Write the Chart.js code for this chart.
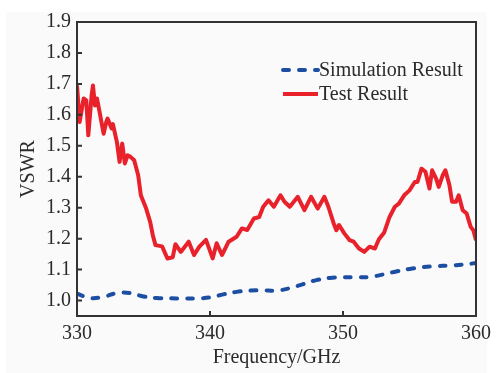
<!DOCTYPE html>
<html>
<head>
<meta charset="utf-8">
<script src="https://cdn.jsdelivr.net/npm/chart.js@4.4.0/dist/chart.umd.min.js"></script>
<style>
  html, body { margin: 0; padding: 0; background: #fff; }
  #wrap { width: 497px; height: 373px; }
</style>
</head>
<body>
<div id="wrap"><canvas id="myChart" width="497" height="373"></canvas></div>
<script>
// simulation (blue dashed)
const simFreq = [330,331,332,333,334,335,336,337,338,339,340,341,342,343,344,345,346,347,348,349,350,351,352,353,354,355,356,357,358,359,360];
const simVswr = [1.022,1.008,1.012,1.024,1.024,1.013,1.008,1.007,1.007,1.007,1.010,1.020,1.028,1.032,1.033,1.032,1.040,1.053,1.066,1.073,1.075,1.075,1.076,1.084,1.094,1.102,1.108,1.111,1.113,1.116,1.121];

// measured (red)
const testFreq = [330.0,330.2,330.5,330.7,330.85,331.1,331.2,331.35,331.5,331.7,332.0,332.2,332.3,332.6,332.7,333.0,333.2,333.4,333.6,333.8,334.0,334.3,334.6,334.8,335.2,335.5,335.7,335.9,336.4,336.8,337.2,337.4,337.8,338.4,338.8,339.2,339.7,340.2,340.5,340.9,341.4,342.0,342.4,342.8,343.3,343.7,344.0,344.4,344.8,345.3,345.6,346.0,346.6,347.1,347.6,348.1,348.6,348.9,349.3,349.5,349.7,350.1,350.5,350.8,351.2,351.6,352.0,352.4,352.7,353.1,353.5,353.9,354.2,354.6,355.0,355.4,355.6,355.9,356.2,356.5,356.7,357.0,357.2,357.5,357.7,358.0,358.2,358.5,358.7,359.0,359.3,359.6,359.8,360.0];
const testVswr = [1.695,1.577,1.653,1.647,1.534,1.663,1.695,1.630,1.653,1.609,1.539,1.577,1.588,1.556,1.570,1.512,1.448,1.507,1.443,1.469,1.465,1.453,1.405,1.340,1.297,1.254,1.211,1.179,1.175,1.136,1.140,1.182,1.157,1.190,1.147,1.174,1.196,1.136,1.185,1.147,1.190,1.206,1.233,1.228,1.265,1.270,1.303,1.324,1.303,1.340,1.319,1.303,1.335,1.292,1.335,1.297,1.335,1.303,1.249,1.227,1.244,1.217,1.195,1.190,1.168,1.157,1.174,1.168,1.198,1.220,1.270,1.303,1.313,1.340,1.356,1.383,1.383,1.426,1.416,1.362,1.421,1.394,1.367,1.405,1.421,1.373,1.319,1.319,1.340,1.292,1.281,1.238,1.227,1.195];

const xTicks = [330, 340, 350, 360];
const yTicks = [1.0, 1.1, 1.2, 1.3, 1.4, 1.5, 1.6, 1.7, 1.8, 1.9];
const legendNames = ['Simulation Result', 'Test Result'];

const blue = '#1c4fa3';
const red = '#e8212b';
const ink = '#2b2b2b';
const serif = '"Liberation Serif", "Times New Roman", serif';

Chart.defaults.font.family = serif;
Chart.defaults.font.size = 20;
Chart.defaults.color = ink;

function toPoints(xs, ys) {
  return xs.map((x, i) => ({ x: x, y: ys[i] }));
}

// frame, inward ticks and legend inside the plot
const framePlugin = {
  id: 'frame',
  beforeDraw(chart) {
    const ctx = chart.ctx;
    ctx.save();
    ctx.fillStyle = '#fafafa';
    ctx.fillRect(6, 12, 481, 361);
    ctx.restore();
  },
  afterDraw(chart) {
    const ctx = chart.ctx;
    const a = chart.chartArea;
    const xs = chart.scales.x;
    const ys = chart.scales.y;
    ctx.save();
    ctx.strokeStyle = '#333';
    ctx.lineWidth = 2;
    ctx.strokeRect(a.left, a.top, a.right - a.left, a.bottom - a.top);
    ctx.beginPath();
    xTicks.forEach(v => {
      const px = xs.getPixelForValue(v);
      ctx.moveTo(px, a.bottom);
      ctx.lineTo(px, a.bottom - 5);
    });
    yTicks.forEach(v => {
      const py = ys.getPixelForValue(v);
      ctx.moveTo(a.left, py);
      ctx.lineTo(a.left + 5, py);
    });
    ctx.stroke();

    // legend
    const lx = 283, lw = 35, ly = 70, gap = 24;
    chart.data.datasets.forEach((ds, i) => {
      const y = ly + i * gap;
      ctx.beginPath();
      ctx.strokeStyle = ds.borderColor;
      ctx.lineWidth = ds.borderWidth;
      ctx.lineCap = ds.borderCapStyle || 'butt';
      ctx.setLineDash(ds.borderDash || []);
      ctx.moveTo(lx, y);
      ctx.lineTo(lx + lw, y);
      ctx.stroke();
      ctx.setLineDash([]);
      ctx.fillStyle = ink;
      ctx.font = '20px ' + serif;
      ctx.textBaseline = 'middle';
      ctx.textAlign = 'left';
      ctx.fillText(ds.label, lx + lw + 1, y + 1);
    });
    ctx.restore();
  }
};

const data = {
  datasets: [{
    label: legendNames[0],
    data: toPoints(simFreq, simVswr),
    borderColor: blue,
    borderWidth: 4,
    borderDash: [6, 10],
    borderCapStyle: 'round',
    tension: 0.4,
    pointRadius: 0
  }, {
    label: legendNames[1],
    data: toPoints(testFreq, testVswr),
    borderColor: red,
    borderWidth: 4,
    borderJoinStyle: 'round',
    tension: 0,
    pointRadius: 0
  }]
};

const config = {
  type: 'line',
  data: data,
  plugins: [framePlugin],
  options: {
    responsive: false,
    animation: false,
    layout: { padding: { top: 22, right: 18, left: 0, bottom: 0 } },
    plugins: { legend: { display: false }, tooltip: { enabled: false } },
    scales: {
      x: {
        type: 'linear',
        min: 330,
        max: 360,
        afterBuildTicks: s => { s.ticks = xTicks.map(v => ({ value: v })); },
        afterFit: s => { s.height = 57; },
        grid: { display: false, drawTicks: false },
        border: { display: false },
        ticks: { padding: 6, color: ink, font: { size: 20 }, maxRotation: 0 },
        title: { display: true, text: 'Frequency/GHz', color: ink, font: { size: 20 }, padding: { top: 0, bottom: 3 } }
      },
      y: {
        min: 0.95,
        max: 1.9,
        afterBuildTicks: s => { s.ticks = yTicks.map(v => ({ value: v })); },
        afterFit: s => { s.width = 77; },
        grid: { display: false, drawTicks: false },
        border: { display: false },
        ticks: { padding: 6, color: ink, font: { size: 20 }, callback: v => v.toFixed(1) },
        title: { display: true, text: 'VSWR', color: ink, font: { size: 20 }, padding: { top: 17, bottom: 0 } }
      }
    }
  }
};

const myChart = new Chart(document.getElementById('myChart'), config);
</script>
</body>
</html>
